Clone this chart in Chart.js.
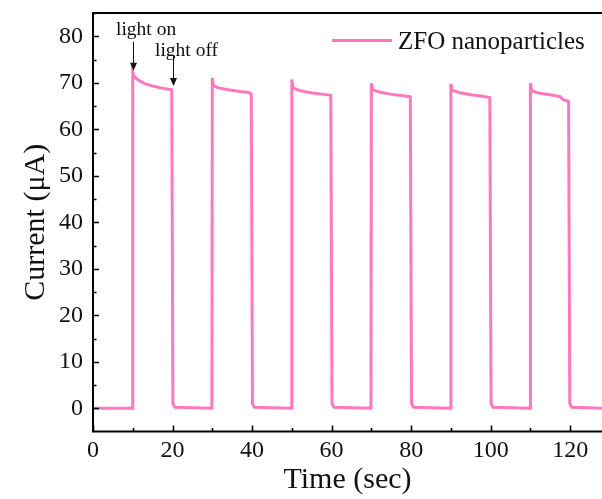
<!DOCTYPE html>
<html lang="en">
  <head>
    <meta charset="UTF-8" />
    <title>ZFO nanoparticles photocurrent</title>
    <script src="https://cdn.jsdelivr.net/npm/chart.js"></script>
    <style>
      body { margin: 0; background: #fff; }
      canvas { display: block; }
    </style>
  </head>
  <body>
    <canvas id="myChart" width="602" height="499"></canvas>
    <script>
      // photocurrent response (time in sec, current in uA)
      const time = [
        0, 9.9,
        10, 10.4, 11.5, 13, 15, 17, 19.8, 20.1, 20.6, 29.9,
        30, 30.3, 31.5, 34, 37, 39.2, 39.8, 40.1, 40.6, 49.9,
        50, 50.3, 52, 55, 58, 59.8, 60.1, 60.6, 69.9,
        70, 70.3, 72, 75, 78, 79.8, 80.1, 80.6, 89.9,
        90, 90.3, 92, 95, 98, 99.8, 100.1, 100.6, 109.9,
        110, 110.3, 112, 115, 117.5, 118.3, 119.6, 119.9, 120.4, 128
      ];
      const current = [
        0, 0,
        72.2, 71.3, 70.5, 69.8, 69.3, 68.9, 68.5, 1.0, 0.2, 0,
        71.0, 69.4, 68.9, 68.5, 68.1, 67.9, 67.6, 1.0, 0.2, 0,
        70.7, 68.9, 68.3, 67.8, 67.5, 67.3, 1.0, 0.2, 0,
        69.9, 68.5, 68.0, 67.5, 67.2, 67.0, 1.0, 0.2, 0,
        69.8, 68.4, 67.9, 67.4, 67.1, 66.8, 1.0, 0.2, 0,
        69.9, 68.3, 67.8, 67.4, 67.0, 66.3, 66.0, 1.0, 0.2, 0
      ];
      const seriesName = "ZFO nanoparticles";
      const xTicks = [0, 20, 40, 60, 80, 100, 120];
      const yTicks = [0, 10, 20, 30, 40, 50, 60, 70, 80];
      // arrows: [label, time, arrow start value, arrow tip value]
      const notes = [
        ["light on", 10, 78.8, 72.6],
        ["light off", 20, 75.7, 69.3]
      ];

      const pink = "#ff78be";
      const serif = "'Liberation Serif', 'Times New Roman', serif";

      const points = time.map((t, i) => ({ x: t, y: current[i] }));

      // frame, inward ticks, legend and arrows
      const decor = {
        id: "decor",
        afterDraw(chart) {
          const { ctx, chartArea: a, scales } = chart;
          const xs = scales.x, ys = scales.y;
          ctx.save();
          ctx.strokeStyle = "#000";
          ctx.lineWidth = 2;
          ctx.beginPath();
          ctx.moveTo(a.right + 2, a.top);
          ctx.lineTo(a.left, a.top);
          ctx.lineTo(a.left, a.bottom);
          ctx.lineTo(a.right + 2, a.bottom);
          ctx.stroke();

          ctx.lineWidth = 1.6;
          ctx.beginPath();
          for (let v = 0; v <= 120; v += 10) {
            const px = Math.round(xs.getPixelForValue(v)) + 0.5;
            const len = v % 20 === 0 ? 6 : 3.5;
            ctx.moveTo(px, a.bottom);
            ctx.lineTo(px, a.bottom - len);
          }
          for (let v = 0; v <= 85; v += 5) {
            const py = Math.round(ys.getPixelForValue(v)) + 0.5;
            const len = v % 10 === 0 ? 6 : 3.5;
            ctx.moveTo(a.left, py);
            ctx.lineTo(a.left + len, py);
          }
          ctx.stroke();

          // legend
          ctx.strokeStyle = pink;
          ctx.lineWidth = 3;
          ctx.beginPath();
          ctx.moveTo(332, 40.5);
          ctx.lineTo(392, 40.5);
          ctx.stroke();
          ctx.fillStyle = "#111";
          ctx.font = "25px " + serif;
          ctx.textBaseline = "alphabetic";
          ctx.textAlign = "left";
          ctx.fillText(seriesName, 398, 49);

          // light on / off annotations
          ctx.font = "19.5px " + serif;
          ctx.strokeStyle = "#111";
          ctx.lineWidth = 1;
          notes.forEach(([label, t, from, to], i) => {
            const px = Math.round(xs.getPixelForValue(t)) + 0.5;
            const y0 = ys.getPixelForValue(from);
            const y1 = ys.getPixelForValue(to);
            ctx.beginPath();
            ctx.moveTo(px, y0);
            ctx.lineTo(px, y1 - 6);
            ctx.stroke();
            ctx.beginPath();
            ctx.moveTo(px - 3.5, y1 - 8);
            ctx.lineTo(px + 3.5, y1 - 8);
            ctx.lineTo(px, y1);
            ctx.closePath();
            ctx.fill();
            ctx.textAlign = "left";
            const tx = i === 0 ? 116 : 155;
            const ty = i === 0 ? 35 : 56;
            ctx.fillText(label, tx, ty);
          });
          ctx.restore();
        }
      };

      const ctx = document.getElementById("myChart").getContext("2d");
      const myChart = new Chart(ctx, {
        type: "line",
        data: {
          datasets: [
            {
              label: seriesName,
              data: points,
              borderColor: pink,
              borderWidth: 3,
              pointRadius: 0,
              tension: 0,
              fill: false
            }
          ]
        },
        options: {
          responsive: false,
          animation: false,
          layout: { padding: { top: 13, right: 0, left: 0, bottom: 0 } },
          scales: {
            x: {
              type: "linear",
              min: 0,
              max: 128,
              afterBuildTicks: (s) => { s.ticks = xTicks.map((v) => ({ value: v })); },
              afterFit: (s) => { s.height = 67.5; s.paddingLeft = 0; s.paddingRight = 0; },
              grid: { display: false, drawTicks: false },
              border: { display: false },
              ticks: {
                padding: 5,
                color: "#111",
                font: { family: serif, size: 24 },
                maxRotation: 0
              },
              title: {
                display: true,
                text: "Time (sec)",
                color: "#111",
                font: { family: serif, size: 30 },
                padding: { top: 0, bottom: 1 }
              }
            },
            y: {
              min: -5,
              max: 85,
              afterBuildTicks: (s) => { s.ticks = yTicks.map((v) => ({ value: v })); },
              afterFit: (s) => { s.width = 93; s.paddingTop = 0; s.paddingBottom = 0; },
              grid: { display: false, drawTicks: false },
              border: { display: false },
              ticks: {
                padding: 10,
                color: "#111",
                font: { family: serif, size: 24 }
              },
              title: {
                display: true,
                text: "Current (μA)",
                color: "#111",
                font: { family: serif, size: 30 },
                padding: { top: 18, bottom: 0 }
              }
            }
          },
          plugins: {
            legend: { display: false },
            tooltip: { enabled: false }
          }
        },
        plugins: [decor]
      });
    </script>
  </body>
</html>
